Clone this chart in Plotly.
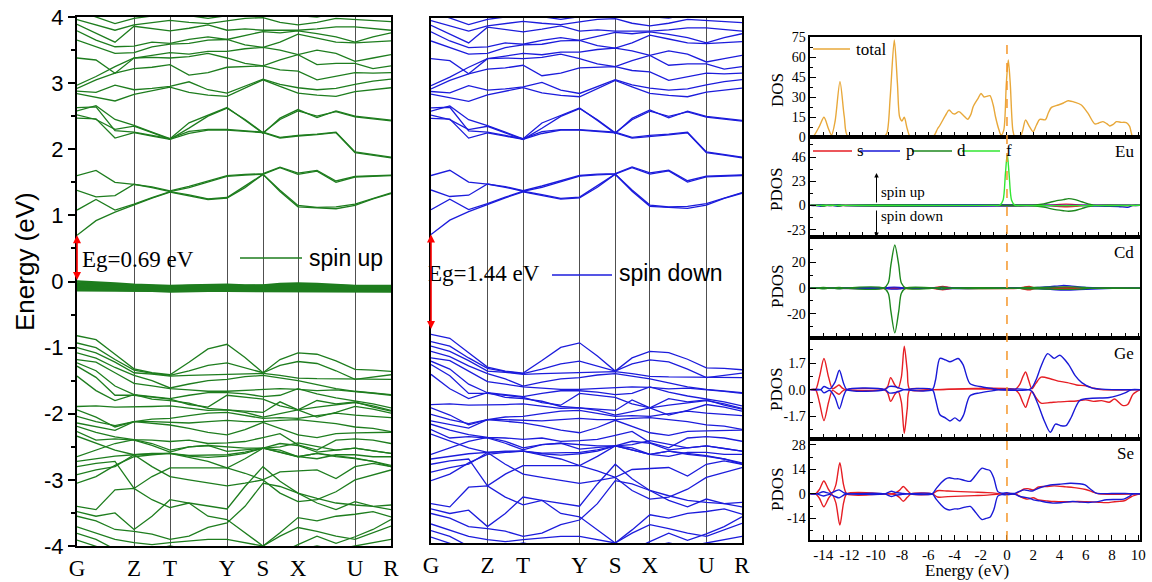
import plotly.graph_objects as go

W, H = 1152, 582
def fx(px):
    return px / W
def fy(py):
    return 1 - py / H

# ---------------- band structure data ----------------
K = [0, 19, 38, 57, 75, 93, 112, 131, 150, 168, 186, 203, 221, 240, 259, 278, 296, 314]
HS_K = [0, 57, 93, 150, 186, 221, 278, 314]
HS_LABELS = ['G', 'Z', 'T', 'Y', 'S', 'X', 'U', 'R']

c1 = [0.70, 0.92, 1.05, 1.16, 1.26, 1.35, 1.30, 1.24, 1.26, 1.42, 1.62, 1.36, 1.13, 1.11, 1.10, 1.15, 1.25, 1.33]
c2 = [1.08, 1.24, 1.08, 1.17, 1.27, 1.36, 1.31, 1.25, 1.27, 1.44, 1.62, 1.38, 1.15, 1.12, 1.13, 1.17, 1.26, 1.34]
c3 = [1.38, 1.28, 1.30, 1.47, 1.42, 1.36, 1.42, 1.50, 1.59, 1.61, 1.62, 1.72, 1.62, 1.67, 1.50, 1.58, 1.59, 1.60]
c4 = [1.60, 1.68, 1.50, 1.47, 1.43, 1.37, 1.44, 1.52, 1.60, 1.62, 1.63, 1.73, 1.64, 1.68, 1.52, 1.59, 1.60, 1.61]
b1 = [2.47, 2.46, 2.17, 2.25, 2.20, 2.15, 2.24, 2.29, 2.29, 2.27, 2.25, 2.17, 2.20, 2.22, 2.25, 1.95, 1.91, 1.87]
b2 = [2.52, 2.45, 2.30, 2.35, 2.25, 2.15, 2.32, 2.50, 2.62, 2.45, 2.25, 2.45, 2.58, 2.50, 2.57, 2.49, 2.46, 2.43]
b3 = [2.58, 2.66, 2.45, 2.36, 2.26, 2.16, 2.40, 2.52, 2.63, 2.44, 2.24, 2.47, 2.60, 2.48, 2.58, 2.50, 2.47, 2.44]
b4 = [2.63, 2.64, 2.28, 2.26, 2.21, 2.16, 2.27, 2.30, 2.30, 2.28, 2.26, 2.18, 2.21, 2.23, 2.26, 1.96, 1.92, 1.88]
d1 = [2.84, 2.78, 2.73, 2.83, 2.88, 2.94, 2.86, 2.82, 2.80, 2.92, 3.05, 2.95, 2.85, 2.82, 2.80, 2.87, 2.90, 2.93]
d2 = [2.88, 2.86, 2.97, 2.90, 2.92, 2.95, 3.02, 2.90, 2.85, 2.95, 3.06, 2.98, 2.93, 2.90, 2.92, 2.98, 3.03, 3.06]
d3 = [2.92, 3.05, 3.15, 3.22, 3.24, 3.28, 3.12, 3.16, 3.24, 3.25, 3.26, 3.20, 3.18, 3.05, 3.10, 3.16, 3.15, 3.16]
d4 = [2.97, 3.10, 3.25, 3.38, 3.39, 3.38, 3.40, 3.45, 3.38, 3.30, 3.26, 3.35, 3.43, 3.28, 3.30, 3.30, 3.22, 3.26]
d5 = [3.38, 3.35, 3.15, 3.38, 3.42, 3.46, 3.44, 3.48, 3.48, 3.52, 3.54, 3.50, 3.43, 3.50, 3.45, 3.33, 3.38, 3.43]
d6 = [3.65, 3.55, 3.45, 3.46, 3.55, 3.59, 3.60, 3.65, 3.66, 3.58, 3.54, 3.62, 3.74, 3.68, 3.62, 3.61, 3.63, 3.64]
d7 = [3.79, 3.65, 3.55, 3.56, 3.62, 3.60, 3.66, 3.70, 3.66, 3.72, 3.78, 3.76, 3.79, 3.75, 3.70, 3.62, 3.70, 3.76]
d8 = [3.89, 3.75, 3.62, 3.86, 3.82, 3.79, 3.83, 3.88, 3.80, 3.82, 3.80, 3.80, 3.80, 3.82, 3.85, 3.85, 3.82, 3.80]
d9 = [3.96, 3.88, 3.80, 3.88, 3.92, 3.95, 3.92, 3.90, 3.94, 3.98, 3.99, 3.92, 3.88, 3.92, 3.98, 3.96, 3.95, 3.93]
d10 = [4.10, 4.00, 3.90, 3.98, 4.02, 4.05, 4.02, 3.98, 4.02, 4.05, 4.10, 4.05, 4.02, 4.00, 4.05, 4.08, 4.05, 4.02]

v1 = [-0.82, -0.88, -1.10, -1.32, -1.38, -1.41, -1.22, -1.02, -0.95, -1.15, -1.38, -1.18, -1.08, -1.10, -1.20, -1.33, -1.34, -1.36]
v2 = [-0.93, -1.00, -1.18, -1.34, -1.39, -1.42, -1.35, -1.27, -1.23, -1.30, -1.38, -1.27, -1.21, -1.24, -1.35, -1.48, -1.44, -1.41]
v3 = [-1.00, -1.08, -1.22, -1.38, -1.40, -1.43, -1.42, -1.41, -1.41, -1.40, -1.39, -1.42, -1.46, -1.47, -1.47, -1.48, -1.47, -1.48]
v4 = [-1.08, -1.16, -1.30, -1.42, -1.50, -1.61, -1.55, -1.50, -1.48, -1.44, -1.42, -1.46, -1.50, -1.56, -1.62, -1.66, -1.68, -1.71]
v5 = [-1.18, -1.22, -1.38, -1.54, -1.58, -1.62, -1.64, -1.66, -1.66, -1.65, -1.64, -1.62, -1.63, -1.65, -1.64, -1.66, -1.69, -1.72]
v6 = [-1.23, -1.35, -1.58, -1.71, -1.74, -1.77, -1.72, -1.68, -1.68, -1.70, -1.74, -1.72, -1.62, -1.70, -1.76, -1.81, -1.85, -1.91]
v7 = [-1.28, -1.45, -1.72, -1.72, -1.75, -1.78, -1.86, -1.90, -1.72, -1.75, -1.78, -1.88, -1.94, -1.80, -1.85, -1.82, -1.90, -1.96]
v8 = [-1.43, -1.65, -1.80, -1.71, -1.78, -1.80, -1.84, -1.92, -1.94, -1.96, -1.98, -1.82, -1.94, -2.05, -1.98, -1.89, -1.93, -1.99]
w1 = [-1.89, -1.88, -1.90, -1.90, -1.89, -1.88, -1.92, -1.95, -1.94, -1.98, -2.05, -2.00, -1.94, -1.90, -1.86, -1.83, -1.88, -1.95]
w2 = [-1.94, -2.05, -2.20, -2.12, -2.08, -2.07, -2.03, -1.99, -1.98, -2.02, -2.07, -2.06, -2.07, -2.03, -1.99, -2.02, -2.04, -2.06]
w3 = [-2.04, -2.12, -2.18, -2.12, -2.12, -2.13, -2.14, -2.12, -2.10, -2.12, -2.12, -2.10, -2.09, -2.12, -2.15, -2.20, -2.22, -2.27]
w4 = [-2.14, -2.20, -2.25, -2.12, -2.15, -2.17, -2.22, -2.28, -2.32, -2.24, -2.13, -2.22, -2.32, -2.36, -2.30, -2.29, -2.28, -2.28]
w5 = [-2.19, -2.28, -2.35, -2.39, -2.40, -2.42, -2.40, -2.45, -2.44, -2.42, -2.36, -2.30, -2.47, -2.55, -2.40, -2.38, -2.40, -2.45]
w6 = [-2.27, -2.40, -2.38, -2.40, -2.48, -2.58, -2.50, -2.48, -2.57, -2.54, -2.52, -2.45, -2.48, -2.58, -2.55, -2.52, -2.56, -2.60]
w7 = [-2.34, -2.45, -2.55, -2.62, -2.60, -2.60, -2.64, -2.66, -2.64, -2.60, -2.52, -2.55, -2.65, -2.60, -2.63, -2.67, -2.72, -2.80]
x1 = [-2.65, -2.55, -2.45, -2.39, -2.45, -2.55, -2.50, -2.48, -2.50, -2.52, -2.52, -2.50, -2.44, -2.50, -2.55, -2.52, -2.56, -2.60]
x2 = [-2.72, -2.68, -2.64, -2.62, -2.61, -2.60, -2.66, -2.72, -2.82, -2.68, -2.52, -2.58, -2.65, -2.60, -2.65, -2.68, -2.72, -2.78]
x3 = [-2.80, -2.75, -2.72, -3.13, -2.95, -2.82, -2.82, -2.82, -2.82, -2.90, -3.00, -2.88, -2.87, -2.85, -2.98, -2.80, -2.75, -2.80]
x4 = [-2.92, -2.85, -2.80, -2.62, -2.80, -2.95, -3.00, -3.05, -3.09, -3.05, -3.00, -3.20, -3.33, -3.30, -3.18, -3.00, -2.92, -2.85]
x5 = [-3.05, -2.95, -2.78, -2.65, -2.62, -2.60, -2.63, -2.63, -2.62, -2.58, -2.52, -2.58, -2.65, -2.68, -2.62, -2.62, -2.65, -2.65]
x6 = [-3.40, -3.45, -3.15, -3.13, -3.30, -3.42, -3.35, -3.40, -3.44, -3.10, -2.80, -3.02, -3.20, -3.28, -3.35, -3.38, -3.40, -3.38]
y1 = [-3.48, -3.55, -3.50, -3.75, -3.55, -3.30, -3.35, -3.55, -3.60, -3.80, -4.00, -3.80, -3.57, -3.62, -3.55, -3.52, -3.48, -3.56]
y2 = [-3.55, -3.62, -3.75, -3.78, -3.82, -3.90, -3.85, -3.72, -3.65, -3.40, -3.05, -3.10, -3.20, -3.35, -3.45, -3.33, -3.40, -3.45]
y3 = [-3.71, -3.80, -3.90, -3.95, -3.98, -3.95, -3.92, -3.90, -3.90, -3.95, -4.00, -3.85, -3.72, -3.78, -3.85, -3.90, -3.80, -3.70]
y4 = [-3.81, -3.90, -4.05, -4.10, -4.05, -4.00, -4.05, -4.10, -4.05, -4.10, -4.20, -4.10, -3.98, -3.85, -3.96, -3.86, -3.75, -3.60]
y5 = [-3.91, -4.00, -4.10, -4.15, -4.10, -4.05, -4.10, -4.15, -4.10, -4.15, -4.25, -4.15, -4.05, -4.00, -4.05, -4.00, -3.95, -3.90]

f1 = [0.00, -0.01, -0.03, -0.05, -0.06, -0.07, -0.06, -0.05, -0.05, -0.06, -0.06, -0.04, -0.03, -0.04, -0.06, -0.07, -0.07, -0.07]
f2 = [-0.03, -0.04, -0.05, -0.06, -0.07, -0.08, -0.07, -0.06, -0.06, -0.07, -0.07, -0.06, -0.05, -0.06, -0.07, -0.08, -0.08, -0.08]
f3 = [-0.05, -0.06, -0.07, -0.08, -0.08, -0.09, -0.08, -0.08, -0.08, -0.08, -0.09, -0.08, -0.07, -0.08, -0.09, -0.09, -0.09, -0.09]
f4 = [-0.07, -0.08, -0.09, -0.09, -0.10, -0.10, -0.10, -0.09, -0.09, -0.10, -0.10, -0.09, -0.09, -0.10, -0.10, -0.11, -0.11, -0.11]
f5 = [-0.09, -0.10, -0.10, -0.11, -0.11, -0.12, -0.11, -0.11, -0.11, -0.11, -0.12, -0.11, -0.11, -0.11, -0.12, -0.12, -0.12, -0.12]
f6 = [-0.11, -0.12, -0.12, -0.13, -0.13, -0.13, -0.13, -0.12, -0.12, -0.13, -0.13, -0.13, -0.12, -0.13, -0.13, -0.14, -0.14, -0.14]
f7 = [-0.13, -0.13, -0.14, -0.14, -0.14, -0.15, -0.14, -0.14, -0.14, -0.14, -0.15, -0.14, -0.14, -0.14, -0.15, -0.15, -0.15, -0.15]

COND_BANDS = [c1, c2, c3, c4, b1, b2, b3, b4, d1, d2, d3, d4, d5, d6, d7, d8, d9, d10]
VAL_BANDS = [v1, v2, v3, v4, v5, v6, v7, v8, w1, w2, w3, w4, w5, w6, w7, x1, x2, x3, x4, x5, x6, y1, y2, y3, y4, y5]
F_BANDS = [f1, f2, f3, f4, f5, f6, f7]

# ---------------- DOS data ----------------
TOT_E = [-15, -14.8, -14.3, -13.95, -13.6, -13.37, -13.1, -12.73, -12.4, -12.1, -9.4, -9.15, -8.9, -8.59, -8.35, -8.18, -8.0,
         -7.83, -7.6, -7.35, -5.65, -5.3, -5.1, -4.7, -4.42, -4.15, -3.97, -3.66, -3.3, -3.0, -2.75, -2.57, -2.2, -1.98,
         -1.75, -1.55, -1.3, -1.05, -0.87, -0.6, -0.45, -0.25, -0.05, 0.1, 0.25, 0.45, 0.6, 1.0, 1.2, 1.41, 1.7, 1.99,
         2.25, 2.5, 2.93, 3.15, 3.39, 3.9, 4.3, 4.66, 5.2, 5.67, 6.18, 6.69, 7.0, 7.32, 7.6, 7.83, 8.1, 8.34, 8.7, 9.1,
         9.35, 9.6, 10.14]
TOT_V = [0, 0, 8, 14.8, 6, 1.5, 12, 41.5, 15, 0, 0, 3, 30, 72.7, 40, 15, 12, 14.8, 6, 0, 0, 6, 9, 16, 20.2, 17.8,
         17.3, 19, 16, 13.3, 17, 22.9, 29, 32.6, 30, 30.5, 31, 24, 15, 5, 1.5, 5, 40, 57.7, 40, 5, 0, 0, 5, 12.7, 8, 4,
         9, 13.2, 13, 18, 22.2, 24, 25.5, 27.2, 26, 24, 17.7, 9.8, 10.5, 11.5, 10, 8.3, 9.5, 11.5, 11, 10.8, 8, 0, 0]

EU_S_E = [-15, 3.0, 3.8, 4.5, 5.2, 6.0, 10.14]
EU_S_UP = [0, 0, 0.8, 1.2, 0.8, 0, 0]
EU_S_DN = [0, 0, -0.8, -1.2, -0.8, 0, 0]
EU_P_E = [-15, -14.6, -14.2, -13.8, -13.3, -12.9, -12.5, 5.5, 6.5, 7.5, 8.5, 9.2, 9.6, 10.14]
EU_P_UP = [0, 0, 0.8, 0, 0, 0.8, 0, 0, 0.3, 0.3, 0.3, 0.3, 0, 0]
EU_P_DN = [0, 0, -0.8, 0, 0, -0.8, 0, 0, -0.5, -0.8, -1.0, -1.8, 0, 0]
EU_D_E = [-15, -14.3, -14.0, -13.7, -13.1, -12.8, -12.5, -1.0, 0.5, 1.5, 2.2, 2.8, 3.3, 3.8, 4.3, 4.7, 5.2, 5.7, 6.2, 6.7, 10.14]
EU_D_UP = [0, 0, 0.5, 0, 0, 0.5, 0, 0, 0.3, 0.2, 0.5, 1.5, 3.0, 4.5, 5.5, 6.5, 5.5, 3.5, 1.5, 0, 0]
EU_D_DN = [0, 0, -0.5, 0, 0, -0.5, 0, 0, -0.3, -0.2, -0.5, -1.5, -3.0, -4.2, -5.0, -5.5, -4.8, -3.0, -1.2, 0, 0]
EU_F_E = [-15, -1.0, -0.55, -0.3, -0.12, 0.02, 0.16, 0.35, 0.6, 1.0, 10.14]
EU_F_UP = [0, 0, 0.3, 5, 30, 49, 30, 5, 0.3, 0, 0]

CD_S_E = [-15, -5.8, -5.3, -4.9, -4.5, -4.0, 0.9, 1.3, 1.7, 2.1, 3.5, 4.5, 5.5, 10.14]
CD_S_UP = [0, 0, 0.8, 1.3, 0.8, 0, 0, 0.8, 1.3, 0.3, 0.4, 0.5, 0, 0]
CD_S_DN = [0, 0, -0.8, -1.3, -0.8, 0, 0, -0.8, -1.3, -0.3, -0.4, -0.5, 0, 0]
CD_P_E = [-15, -9.3, -9.0, -8.6, -8.2, -7.9, -5.6, -5.0, -4.4, -3.0, -1.5, 1.5, 2.5, 3.3, 4.2, 4.8, 5.5, 6.5, 7.5, 8.5, 10.14]
CD_P_UP = [0, 0, 0.6, 0.8, 0.6, 0, 0, 0.6, 0.4, 0.3, 0, 0, 0.6, 1.2, 2.0, 1.8, 1.0, 0.3, 0.2, 0, 0]
CD_P_DN = [0, 0, -0.6, -0.8, -0.6, 0, 0, -0.6, -0.4, -0.3, 0, 0, -0.5, -1.0, -1.5, -1.4, -1.2, -0.8, -0.3, 0, 0]
CD_D_E = [-15, -14.4, -14.0, -13.6, -13.2, -12.8, -12.4, -9.4, -9.05, -8.85, -8.55, -8.25, -8.05, -7.7, -5.5, -5.0, -4.5,
          0.8, 1.5, 2.5, 3.5, 4.5, 5.5, 6.5, 10.14]
CD_D_UP = [0, 0, 0.6, 0, 0, 0.6, 0, 0, 4, 18, 33.8, 18, 4, 0, 0, 0.8, 0, 0, 0.5, 0.5, 0.8, 1.0, 0.8, 0, 0]
CD_D_DN = [0, 0, -0.6, 0, 0, -0.6, 0, 0, -4, -18, -35, -18, -4, 0, 0, -0.8, 0, 0, -0.5, -0.5, -0.8, -1.0, -0.8, 0, 0]

GE_S_UP_E = [-15, -14.6, -14.3, -13.95, -13.6, -13.3, -13.0, -12.8, -12.55, -12.3, -9.4, -9.1, -8.87, -8.55, -8.3, -8.05,
             -7.83, -7.6, -7.4, -5.6, -3.0, -1.0, 0.6, 0.95, 1.2, 1.42, 1.65, 1.9, 2.2, 2.6, 3.3, 3.9, 4.6, 5.3, 6.0, 6.6,
             7.2, 10.14]
GE_S_UP = [0, 0, 0.8, 1.99, 0.8, 0.05, 0.2, 0.3, 0.1, 0, 0, 0.2, 0.77, 0.3, 0.1, 0.8, 2.78, 1.2, 0, 0, 0.05, 0.03, 0,
           0.3, 0.8, 1.13, 0.6, 0.05, 0.4, 0.8, 0.7, 0.55, 0.45, 0.3, 0.25, 0.1, 0, 0]
GE_S_DN_E = [-15, -14.6, -14.3, -13.95, -13.6, -13.3, -13.0, -12.8, -12.55, -12.3, -9.4, -9.1, -8.87, -8.55, -8.3, -8.05,
             -7.83, -7.6, -7.4, -5.6, 0.6, 0.95, 1.2, 1.42, 1.65, 1.9, 2.2, 2.6, 3.3, 3.9, 4.6, 5.3, 6.0, 6.6, 7.2, 7.8,
             8.2, 8.8, 9.2, 9.6, 10.14]
GE_S_DN = [0, 0, -0.8, -1.97, -0.8, -0.05, -0.2, -0.3, -0.1, 0, 0, -0.2, -0.75, -0.3, -0.1, -0.8, -2.78, -1.2, 0, 0,
           0, -0.3, -0.8, -1.13, -0.6, -0.1, -0.5, -0.86, -0.82, -0.78, -0.75, -0.72, -0.65, -0.75, -0.7, -0.8, -0.6,
           -1.0, -0.95, -0.3, 0]
GE_P_UP_E = [-15, -14.2, -13.95, -13.5, -13.1, -12.78, -12.45, -12.2, -9.3, -9.0, -8.6, -8.2, -7.8, -5.7, -5.45, -5.11,
             -4.7, -4.35, -4.0, -3.72, -3.35, -2.83, -2.07, -1.05, -0.6, 1.8, 2.2, 2.6, 3.1, 3.6, 4.03, 4.7, 5.2, 5.7,
             6.5, 7.0, 8.0, 10.14]
GE_P_UP = [0, 0, 0.2, 0.05, 0.5, 1.24, 0.4, 0, 0, 0.2, 0.2, 0.1, 0, 0, 0.6, 2.0, 1.9, 1.78, 1.9, 1.99, 1.6, 0.4, 0.2,
           0.06, 0, 0.05, 0.6, 1.5, 2.3, 2.0, 2.2, 1.6, 0.9, 0.45, 0.1, 0.05, 0, 0]
GE_P_DN_E = [-15, -14.2, -13.95, -13.5, -13.1, -12.78, -12.45, -12.2, -9.3, -9.0, -8.6, -8.2, -7.8, -5.7, -5.45, -5.11,
             -4.7, -4.35, -3.97, -3.6, -3.3, -2.83, -2.07, -1.05, -0.6, 1.8, 2.3, 2.8, 3.3, 3.7, 4.1, 4.5, 4.9, 5.55, 6.5,
             7.8, 9.0, 9.5, 10.14]
GE_P_DN = [0, 0, -0.2, -0.05, -0.5, -1.22, -0.4, 0, 0, -0.2, -0.2, -0.1, 0, 0, -0.6, -1.6, -1.8, -2.0, -1.8, -2.0,
           -1.6, -0.4, -0.2, -0.06, 0, -0.05, -0.8, -1.9, -2.72, -2.2, -2.3, -2.3, -1.76, -0.69, -0.55, -0.5, -0.2, 0, 0]

SE_S_UP_E = [-15, -14.6, -14.3, -13.96, -13.6, -13.35, -13.05, -12.74, -12.45, -12.2, -9.3, -8.6, -8.2, -7.9, -7.6,
             -7.3, -5.7, -5.3, -4.5, -3.5, -2.5, -1.5, -0.8, -0.5, 0.6, 1.0, 1.3, 1.6, 2.0, 2.4, 3.0, 3.6, 4.5, 5.4, 6.0,
             6.5, 7.0, 10.14]
SE_S_UP = [0, 0, 2.5, 7.4, 2.5, 0.3, 5, 17.9, 5, 0, 0, 0.2, 2, 4.2, 2, 0, 0, 1.8, 1.6, 1.3, 1.0, 0.7, 0.3, 0, 0, 1.5,
           2.8, 3.0, 2.2, 4.0, 4.2, 4.6, 4.0, 3.3, 2.5, 1.2, 0, 0]
SE_S_DN_E = [-15, -14.6, -14.3, -13.96, -13.6, -13.35, -13.05, -12.74, -12.45, -12.2, -9.3, -8.6, -8.2, -7.9, -7.6,
             -7.3, -5.7, -5.3, -4.5, -3.5, -2.5, -1.5, -0.8, -0.5, 0.6, 1.0, 1.3, 1.6, 2.0, 2.4, 3.0, 3.6, 4.5, 5.4, 6.0,
             6.5, 7.0, 7.6, 8.2, 8.6, 9.0, 9.5, 10.14]
SE_S_DN = [0, 0, -2.5, -7.4, -2.5, -0.3, -5, -17.9, -5, 0, 0, -0.2, -2, -4.2, -2, 0, 0, -1.8, -1.6, -1.3, -1.0, -0.7,
           -0.3, 0, 0, -1.5, -2.5, -3.0, -2.2, -3.5, -4.0, -4.4, -4.5, -4.4, -4.5, -4.6, -4.8, -5.0, -4.5, -4.3, -3.8,
           -1.5, 0]
SE_P_UP_E = [-15, -14.5, -14.0, -13.5, -13.1, -12.8, -12.4, -12.0, -9.3, -9.0, -8.8, -8.5, -8.0, -7.6, -5.7, -5.4, -5.0,
             -4.7, -4.4, -4.0, -3.7, -3.2, -2.8, -2.4, -1.9, -1.6, -1.3, -1.0, -0.7, -0.4, 0.0, 0.3, 0.6, 1.0, 1.3, 1.7,
             2.0, 2.5, 3.3, 4.0, 4.8, 5.5, 5.95, 6.4, 6.8, 8.0, 9.0, 9.5, 10.14]
SE_P_UP = [0, 0, 1.2, 0.3, 1.5, 2.3, 0.5, 0, 0, 1.0, 1.5, 0.8, 0.3, 0, 0, 3.0, 6.5, 8.5, 9.2, 8.6, 8.6, 7.6, 7.2, 10.5,
           14.7, 14.0, 13.4, 9.0, 1.3, 0.4, 0.6, 0.2, 0.3, 1.6, 2.3, 1.7, 1.8, 3.5, 5.1, 5.5, 6.1, 5.8, 5.1, 2.5, 0.4,
           0.2, 0.2, 0.1, 0]
SE_P_DN_E = [-15, -14.5, -14.0, -13.5, -13.1, -12.8, -12.4, -12.0, -9.3, -9.0, -8.8, -8.5, -8.0, -7.6, -5.7, -5.4, -5.0,
             -4.7, -4.4, -4.0, -3.7, -3.2, -2.8, -2.4, -1.9, -1.6, -1.3, -1.0, -0.7, -0.4, 0.0, 0.3, 0.6, 1.0, 1.3, 1.7,
             2.0, 2.5, 3.0, 3.5, 4.2, 5.0, 5.6, 6.2, 6.8, 7.6, 8.3, 8.9, 9.3, 9.6, 10.14]
SE_P_DN = [0, 0, -1.2, -0.3, -1.5, -2.3, -0.5, 0, 0, -1.0, -1.5, -0.8, -0.3, 0, 0, -3.0, -6.5, -8.5, -9.2, -8.6, -8.6,
           -7.6, -7.2, -10.5, -14.7, -14.0, -13.4, -9.0, -1.3, -0.4, -0.6, -0.2, -0.3, -1.5, -1.9, -2.5, -3.4, -4.0,
           -4.8, -5.3, -5.0, -4.4, -4.7, -4.9, -4.6, -3.4, -3.2, -3.0, -1.5, 0, 0]

# ---------------- styles ----------------
GREEN = 'rgb(30,125,30)'
BLUE = 'rgb(28,28,220)'
C_TOT = 'rgb(232,168,58)'
C_S = 'rgb(230,30,36)'
C_P = 'rgb(25,25,215)'
C_D = 'rgb(30,135,30)'
C_F = 'rgb(50,230,50)'
C_DASH = 'rgb(245,150,40)'
SERIF = 'Liberation Serif'
SANS = 'Liberation Sans'

fig = go.Figure()

def band(ys, color, xa, ya, width=1.3):
    fig.add_trace(go.Scatter(x=K, y=ys, mode='lines', line=dict(color=color, width=width),
                             xaxis=xa, yaxis=ya, hoverinfo='skip', showlegend=False))

for b in COND_BANDS + VAL_BANDS:
    band(b, GREEN, 'x', 'y')
for b in F_BANDS:
    band(b, GREEN, 'x', 'y', width=2.6)
for b in COND_BANDS + VAL_BANDS:
    band(b, BLUE, 'x2', 'y2')

def dos(xs, ys, color, n):
    fig.add_trace(go.Scatter(x=xs, y=ys, mode='lines', line=dict(color=color, width=1.4, shape='spline', smoothing=0.8),
                             xaxis='x%d' % n, yaxis='y%d' % n, hoverinfo='skip', showlegend=False))

dos(TOT_E, TOT_V, C_TOT, 3)
dos(EU_S_E, EU_S_UP, C_S, 4); dos(EU_S_E, EU_S_DN, C_S, 4)
dos(EU_P_E, EU_P_UP, C_P, 4); dos(EU_P_E, EU_P_DN, C_P, 4)
dos(EU_D_E, EU_D_UP, C_D, 4); dos(EU_D_E, EU_D_DN, C_D, 4)
dos(EU_F_E, EU_F_UP, C_F, 4)
dos(CD_S_E, CD_S_UP, C_S, 5); dos(CD_S_E, CD_S_DN, C_S, 5)
dos(CD_P_E, CD_P_UP, C_P, 5); dos(CD_P_E, CD_P_DN, C_P, 5)
dos(CD_D_E, CD_D_UP, C_D, 5); dos(CD_D_E, CD_D_DN, C_D, 5)
dos(GE_S_UP_E, GE_S_UP, C_S, 6); dos(GE_S_DN_E, GE_S_DN, C_S, 6)
dos(GE_P_UP_E, GE_P_UP, C_P, 6); dos(GE_P_DN_E, GE_P_DN, C_P, 6)
dos(SE_S_UP_E, SE_S_UP, C_S, 7); dos(SE_S_DN_E, SE_S_DN, C_S, 7)
dos(SE_P_UP_E, SE_P_UP, C_P, 7); dos(SE_P_DN_E, SE_P_DN, C_P, 7)

# ---------------- axes ----------------
band_x = dict(range=[0, 314], tickmode='array', tickvals=HS_K, ticktext=HS_LABELS, showgrid=True,
              gridcolor='rgb(80,80,80)', gridwidth=1, showline=True, linecolor='black', linewidth=2, mirror=True,
              ticks='', zeroline=False, automargin=False, tickfont=dict(family=SERIF, size=23, color='black'))
yv = [-4, -3, -2, -1, 0, 1, 2, 3, 4]
layout = dict(width=W, height=H, autosize=False, margin=dict(l=0, r=0, t=0, b=0), plot_bgcolor='white',
              paper_bgcolor='white', showlegend=False)
layout['xaxis'] = dict(band_x, domain=[fx(77), fx(391)], anchor='y')
layout['yaxis'] = dict(domain=[fy(546), fy(17)], range=[-4, 4], anchor='x', tickmode='array', tickvals=yv,
                       ticktext=[str(v) for v in yv], ticks='outside', ticklen=7, tickwidth=1.5, tickcolor='black',
                       minor=dict(ticks='outside', ticklen=4, tickmode='array', tickvals=[v + 0.5 for v in yv[:-1]],
                                  tickcolor='black'),
                       showgrid=False, zeroline=False, showline=True, linecolor='black', linewidth=2, mirror=True,
                       automargin=False, tickfont=dict(family=SANS, size=22, color='black'))
layout['xaxis2'] = dict(band_x, domain=[fx(431), fx(742)], anchor='y2')
layout['yaxis2'] = dict(domain=[fy(543), fy(18)], range=[-4, 4], anchor='x2', showticklabels=False, ticks='',
                        showgrid=False, zeroline=False, showline=True, linecolor='black', linewidth=2, mirror=True,
                        automargin=False)

PANELS = [  # (top px, bottom px, range, tickvals, ticktext, minor tickvals)
    (37, 137, [0, 75], [0, 15, 30, 45, 60, 75], ['0', '15', '30', '45', '60', '75'], [7.5, 22.5, 37.5, 52.5, 67.5]),
    (137, 237, [-30, 65], [-23, 0, 23, 46], ['-23', '0', '23', '46'], [-11.5, 11.5, 34.5, 57.5]),
    (237, 338, [-39, 40], [-20, 0, 20], ['-20', '0', '20'], [-30, -10, 10, 30]),
    (338, 439, [-3.15, 3.3], [-1.7, 0, 1.7], ['-1.7', '0.0', '1.7'], [-2.55, -0.85, 0.85, 2.55]),
    (439, 540, [-26.4, 31.4], [-14, 0, 14, 28], ['-14', '0', '14', '28'], [-21, -7, 7, 21]),
]
xv = list(range(-14, 11, 2))
for i, (top, bot, rng, tv, tt, mv) in enumerate(PANELS):
    n = i + 3
    last = (i == len(PANELS) - 1)
    layout['xaxis%d' % n] = dict(domain=[fx(810.2), fx(1140)], range=[-15, 10.14], anchor='y%d' % n,
                                 tickmode='array', tickvals=xv, ticktext=[str(v) for v in xv],
                                 showticklabels=last, ticks='inside', ticklen=5, tickcolor='black',
                                 minor=dict(ticks='inside', ticklen=5, tickmode='array',
                                            tickvals=list(range(-15, 11, 2)), tickcolor='black'),
                                 showgrid=False, zeroline=False, showline=True, linecolor='black', linewidth=1.5,
                                 mirror=True, automargin=False, tickfont=dict(family=SERIF, size=15, color='black'))
    layout['yaxis%d' % n] = dict(domain=[fy(bot), fy(top)], range=rng, anchor='x%d' % n, tickmode='array',
                                 tickvals=tv, ticktext=tt, ticks='inside', ticklen=6, tickcolor='black',
                                 minor=dict(ticks='inside', ticklen=3.5, tickmode='array', tickvals=mv,
                                            tickcolor='black'),
                                 showgrid=False, zeroline=False, showline=True, linecolor='black', linewidth=1.5,
                                 mirror=True, automargin=False, tickfont=dict(family=SERIF, size=14, color='black'))
fig.update_layout(**layout)

# ---------------- shapes & annotations ----------------
shapes = []
anns = []

def pline(x0, x1, y, color, width=1.5):
    shapes.append(dict(type='line', xref='paper', yref='paper', x0=fx(x0), x1=fx(x1), y0=fy(y), y1=fy(y),
                       line=dict(color=color, width=width)))

def ptext(x, y, text, family, size, xanchor='left', angle=0):
    anns.append(dict(xref='paper', yref='paper', x=fx(x), y=fy(y), text=text, showarrow=False, xanchor=xanchor,
                     yanchor='middle', textangle=angle, font=dict(family=family, size=size, color='black')))

# Fermi level dashed line through all DOS panels
shapes.append(dict(type='line', xref='x3', yref='paper', x0=0, x1=0, y0=fy(540), y1=fy(37),
                   line=dict(color=C_DASH, width=1.5, dash='dash')))

# band legends and gap labels
ptext(80, 259, 'Eg=0.69 eV', SERIF, 23)
pline(240, 302, 258, GREEN)
ptext(307, 258, 'spin up', SANS, 23)
ptext(426, 273, 'Eg=1.44 eV', SERIF, 23)
pline(552, 612, 275, BLUE)
ptext(617, 273, 'spin down', SANS, 23)
ptext(25, 262, 'Energy (eV)', SANS, 26, xanchor='center', angle=-90)

# band-gap double arrows
anns.append(dict(xref='x', yref='y', x=0, y=c1[0], ax=0, ay=f1[0], axref='x', ayref='y', text='', showarrow=True,
                 arrowside='end+start', arrowhead=2, arrowsize=1, arrowwidth=1.6, arrowcolor='red'))
anns.append(dict(xref='x2', yref='y2', x=0, y=c1[0], ax=0, ay=-0.76, axref='x2', ayref='y2', text='',
                 showarrow=True, arrowside='end+start', arrowhead=2, arrowsize=1, arrowwidth=1.6, arrowcolor='red'))

# DOS legends
pline(813, 850, 49, C_TOT)
ptext(854, 49, 'total', SERIF, 17)
for (x0, x1, col, lab, lx) in [(813, 852, C_S, 's', 855), (860, 900, C_P, 'p', 904), (912, 952, C_D, 'd', 955),
                               (962, 1000, C_F, 'f', 1004)]:
    pline(x0, x1, 151, col)
    ptext(lx, 151, lab, SERIF, 17)
ptext(1136, 152, 'Eu', SERIF, 17, xanchor='right')
ptext(1136, 252, 'Cd', SERIF, 17, xanchor='right')
ptext(1136, 353, 'Ge', SERIF, 17, xanchor='right')
ptext(1136, 453, 'Se', SERIF, 17, xanchor='right')

# spin up / down arrows in Eu panel
anns.append(dict(xref='paper', yref='paper', x=fx(876.5), y=fy(173), ax=0, ay=31, text='', showarrow=True,
                 arrowhead=2, arrowsize=0.9, arrowwidth=1, arrowcolor='black'))
anns.append(dict(xref='paper', yref='paper', x=fx(876.5), y=fy(237), ax=0, ay=-28, text='', showarrow=True,
                 arrowhead=2, arrowsize=0.9, arrowwidth=1, arrowcolor='black'))
ptext(879, 192, 'spin up', SERIF, 15)
ptext(879, 216, 'spin down', SERIF, 15)

# DOS axis titles
ptext(777, 90, 'DOS', SERIF, 17, xanchor='center', angle=-90)
for yc in [190, 287, 390, 490]:
    ptext(777, yc, 'PDOS', SERIF, 17, xanchor='center', angle=-90)
ptext(967, 570, 'Energy (eV)', SERIF, 17, xanchor='center')

fig.update_layout(shapes=shapes, annotations=anns)
fig.write_html('out.html', config={'displayModeBar': False},
               post_script="document.body.style.margin='0px';document.body.style.overflow='hidden';")
